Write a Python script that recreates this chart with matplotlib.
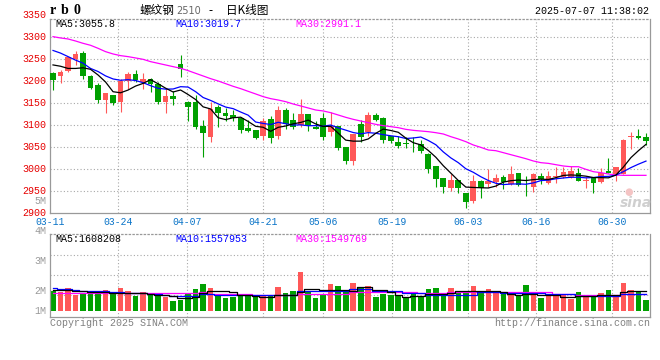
import matplotlib
matplotlib.use("Agg")
import matplotlib.pyplot as plt
import numpy as np

# ---------------- data ----------------
dates = ["03-11", "03-24", "04-07", "04-21", "05-06", "05-19", "06-03", "06-16", "06-30"]
date_idx = [0, 9, 18, 28, 36, 45, 55, 64, 74]

opens = [3218, 3212, 3223, 3251, 3264, 3212, 3191, 3157, 3168, 3153,
         3200, 3216, 3197, 3206, 3193, 3153, 3166, 3239, 3153, 3153,
         3098, 3072, 3140, 3127, 3123, 3117, 3094, 3089, 3075, 3113,
         3075, 3134, 3111, 3100, 3125, 3096, 3115, 3085, 3098, 3049,
         3019, 3102, 3085, 3123, 3115, 3075, 3062, 3060, 3060, 3057,
         3035, 3007, 2978, 2957, 2975, 2946, 2927, 2972, 2965, 2969,
         2982, 2965, 2990, 2968, 2958, 2984, 2967, 2982, 2982, 2982,
         2990, 2973, 2978, 2971, 2996, 2988, 2988, 3073, 3074, 3073]
highs = [3222, 3226, 3255, 3269, 3269, 3214, 3195, 3174, 3169, 3206,
         3222, 3226, 3219, 3207, 3197, 3184, 3178, 3260, 3154, 3168,
         3111, 3153, 3146, 3138, 3134, 3118, 3111, 3089, 3115, 3120,
         3143, 3138, 3128, 3159, 3126, 3108, 3127, 3130, 3098, 3050,
         3080, 3111, 3130, 3128, 3118, 3075, 3075, 3072, 3072, 3066,
         3036, 3007, 2979, 2988, 2975, 2946, 2986, 2975, 2999, 2988,
         2986, 3007, 2990, 2984, 2990, 2991, 2994, 3005, 3005, 3007,
         3003, 2982, 2982, 3001, 3024, 3004, 3068, 3083, 3091, 3081]
lows = [3180, 3195, 3222, 3237, 3206, 3181, 3151, 3128, 3146, 3130,
        3181, 3199, 3181, 3176, 3149, 3127, 3146, 3209, 3108, 3090,
        3028, 3062, 3096, 3108, 3108, 3082, 3084, 3067, 3066, 3060,
        3067, 3090, 3092, 3096, 3087, 3090, 3066, 3075, 3043, 3012,
        3009, 3062, 3075, 3108, 3058, 3058, 3047, 3047, 3039, 3037,
        2991, 2959, 2946, 2950, 2944, 2910, 2921, 2933, 2959, 2959,
        2953, 2963, 2961, 2937, 2948, 2965, 2965, 2968, 2978, 2978,
        2972, 2957, 2946, 2967, 2990, 2973, 2988, 3045, 3069, 3054]
closes = [3203, 3222, 3254, 3262, 3212, 3185, 3157, 3174, 3151, 3200,
          3216, 3203, 3204, 3193, 3153, 3166, 3159, 3227, 3142, 3096,
          3082, 3136, 3127, 3120, 3117, 3089, 3087, 3071, 3110, 3071,
          3134, 3102, 3096, 3125, 3098, 3091, 3073, 3098, 3047, 3019,
          3080, 3073, 3123, 3111, 3066, 3064, 3053, 3057, 3058, 3041,
          3000, 2976, 2959, 2975, 2957, 2925, 2972, 2956, 2972, 2978,
          2971, 2988, 2963, 2967, 2988, 2977, 2984, 2984, 2992, 2994,
          2972, 2975, 2968, 2991, 2991, 3004, 3066, 3076, 3070, 3063]

ma5 = [3237, 3234, 3229, 3229, 3230.5, 3227.0, 3214.1, 3198.1, 3175.9, 3173.5,
       3179.7, 3188.8, 3194.9, 3203.4, 3194.0, 3184.0, 3175.3, 3179.8, 3169.5, 3158.1,
       3141.4, 3136.6, 3116.6, 3112.3, 3116.6, 3117.8, 3108.1, 3097.0, 3094.8, 3085.6,
       3094.7, 3097.7, 3102.7, 3105.8, 3111.1, 3102.4, 3096.7, 3097.0, 3081.3, 3065.5,
       3063.2, 3063.2, 3068.2, 3081.1, 3090.6, 3087.5, 3083.4, 3070.2, 3059.6, 3054.7,
       3041.9, 3026.5, 3007.1, 2990.3, 2973.4, 2958.4, 2957.6, 2956.9, 2956.4, 2960.7,
       2969.8, 2973.0, 2974.5, 2973.4, 2975.4, 2976.6, 2975.7, 2980.0, 2985.0, 2986.1,
       2985.2, 2983.3, 2980.1, 2980.0, 2979.5, 2985.9, 3004.2, 3025.7, 3041.5, 3055.8]
ma10 = [3270, 3264, 3256, 3248, 3241, 3229, 3222, 3212, 3205, 3202.0,
        3203.4, 3201.5, 3196.5, 3189.7, 3183.7, 3181.8, 3182.1, 3187.4, 3186.5, 3176.0,
        3162.7, 3156.0, 3148.2, 3140.9, 3137.3, 3129.6, 3122.4, 3106.8, 3103.6, 3101.1,
        3106.2, 3102.9, 3099.9, 3100.3, 3098.3, 3098.6, 3097.2, 3099.9, 3093.5, 3088.3,
        3082.8, 3079.9, 3082.6, 3081.2, 3078.0, 3075.4, 3073.3, 3069.2, 3070.4, 3072.6,
        3064.7, 3055.0, 3038.6, 3025.0, 3014.1, 3000.2, 2992.1, 2982.0, 2973.4, 2967.1,
        2964.1, 2965.3, 2965.7, 2964.9, 2968.0, 2973.2, 2974.4, 2977.3, 2979.2, 2980.8,
        2980.9, 2979.5, 2980.1, 2982.5, 2982.8, 2985.5, 2993.8, 3002.9, 3010.7, 3017.7]
ma30 = [3301.5, 3298.5, 3296.2, 3291.6, 3286.3, 3281.8, 3274.9, 3267.3, 3262.0, 3258.2,
        3255.9, 3252.9, 3249.8, 3244.5, 3240.7, 3236.9, 3233.1, 3229.3, 3224.0, 3217.9,
        3211.8, 3205.7, 3200.4, 3194.3, 3188.2, 3182.9, 3176.8, 3170.8, 3164.7, 3160.1,
        3157.0, 3153.2, 3147.9, 3143.4, 3138.8, 3134.2, 3132.0, 3128.1, 3122.8, 3117.5,
        3112.9, 3109.1, 3105.3, 3101.5, 3098.5, 3096.2, 3093.9, 3090.1, 3087.8, 3086.3,
        3084.8, 3082.5, 3079.5, 3073.4, 3068.1, 3062.0, 3054.4, 3049.0, 3043.0, 3041.4,
        3036.9, 3032.3, 3027.8, 3023.2, 3017.9, 3014.1, 3012.5, 3009.5, 3006.5, 3004.9,
        3004.9, 2998.9, 2993.5, 2991.3, 2988.2, 2986.0, 2985.2, 2985.2, 2985.2, 2985.2]

# volume in millions (on the chart's own volume scale)
volumes = [2.01, 1.97, 2.10, 1.88, 1.93, 1.96, 1.96, 2.04, 1.93, 2.10,
           2.01, 1.84, 1.96, 1.91, 1.88, 1.80, 1.68, 1.71, 1.90, 2.07,
           2.23, 2.10, 1.88, 1.77, 1.80, 1.84, 1.84, 1.82, 1.84, 1.88,
           2.13, 1.93, 1.99, 2.63, 1.99, 1.77, 1.88, 2.23, 2.16, 2.04,
           2.27, 2.10, 2.18, 1.80, 1.91, 1.88, 1.88, 1.77, 1.91, 1.82,
           2.07, 2.10, 1.88, 2.10, 1.96, 1.99, 2.18, 1.93, 2.07, 1.99,
           1.93, 1.93, 1.88, 2.21, 1.93, 1.77, 1.90, 1.84, 1.91, 1.74,
           1.97, 1.88, 1.88, 1.93, 2.04, 1.88, 2.27, 2.04, 1.99, 1.71]
vol_ma5 = [2.04, 2.02, 2.02, 2.01, 2.00, 1.96, 1.96, 1.96, 1.93, 1.93,
           1.93, 1.93, 1.92, 1.91, 1.88, 1.88, 1.82, 1.77, 1.77, 1.80,
           1.93, 2.00, 2.01, 2.01, 1.96, 1.88, 1.88, 1.82, 1.80, 1.80,
           1.88, 1.88, 1.88, 1.96, 2.07, 2.07, 2.02, 2.04, 2.04, 2.04,
           1.99, 2.12, 2.12, 2.02, 2.02, 1.97, 1.88, 1.80, 1.82, 1.82,
           1.91, 1.91, 1.91, 1.93, 1.99, 1.99, 1.99, 1.99, 1.99, 1.99,
           1.96, 1.91, 1.88, 1.91, 1.91, 1.88, 1.88, 1.88, 1.80, 1.80,
           1.82, 1.82, 1.82, 1.88, 1.88, 1.88, 1.96, 1.99, 2.01, 2.01]
vol_ma10 = [2.10, 2.07, 2.06, 2.03, 2.01, 1.99, 1.99, 1.99, 1.96, 1.96,
            1.93, 1.93, 1.93, 1.91, 1.90, 1.87, 1.84, 1.84, 1.82, 1.82,
            1.91, 1.91, 1.88, 1.88, 1.88, 1.88, 1.88, 1.88, 1.88, 1.88,
            1.88, 1.88, 1.88, 1.99, 1.99, 1.99, 1.99, 1.99, 1.99, 1.99,
            2.07, 2.07, 2.07, 1.99, 1.99, 1.99, 1.99, 1.93, 1.93, 1.93,
            1.88, 1.88, 1.88, 1.88, 1.88, 1.88, 1.88, 1.97, 1.97, 1.97,
            1.93, 1.93, 1.93, 1.93, 1.93, 1.93, 1.91, 1.91, 1.91, 1.91,
            1.84, 1.84, 1.84, 1.84, 1.84, 1.84, 1.91, 1.91, 1.91, 1.91]
vol_ma30 = [1.93, 1.93, 1.93, 1.93, 1.93, 1.93, 1.93, 1.93, 1.93, 1.93,
            1.93, 1.93, 1.93, 1.93, 1.93, 1.93, 1.93, 1.93, 1.93, 1.93,
            1.96, 1.91, 1.91, 1.91, 1.91, 1.91, 1.91, 1.88, 1.88, 1.88,
            1.88, 1.88, 1.88, 1.91, 1.91, 1.91, 1.91, 1.91, 1.91, 1.91,
            1.96, 1.96, 1.96, 1.96, 1.96, 1.96, 1.96, 1.96, 1.96, 1.93,
            1.93, 1.93, 1.93, 1.96, 1.96, 1.96, 1.96, 1.96, 1.96, 1.96,
            1.96, 1.96, 1.96, 1.96, 1.96, 1.96, 1.96, 1.91, 1.91, 1.91,
            1.88, 1.88, 1.88, 1.88, 1.88, 1.88, 1.91, 1.91, 1.91, 1.91]

price_levels = [2900, 2950, 3000, 3050, 3100, 3150, 3200, 3250, 3300, 3350]
vol_levels = [5, 4, 3, 2]
vol_labels = ["5M", "4M", "3M", "2M"]

# ---------------- styling / layout ----------------
W, H = 660, 360
RED = "#ff5858"
GREEN = "#00a000"
GRID = "#a8a8a8"
BORDER = "#999999"
MONO = ["Liberation Mono", "DejaVu Sans Mono"]
CJK = ["Noto Sans CJK SC", "DejaVu Sans"]
DOT = (0, (1, 2))


def rect(l, t, r, b):
    return [l / W, 1 - b / H, (r - l) / W, (b - t) / H]


def ftext(x, y, s, **kw):
    return fig.text(x / W, 1 - y / H, s, **kw)


fig = plt.figure(figsize=(W / 100, H / 100), dpi=100)
fig.patch.set_facecolor("white")

ax = fig.add_axes(rect(50, 19, 649.5, 212.7))
vax = fig.add_axes(rect(50, 234, 649.5, 317.3))

n = len(closes)
x = np.arange(n)
XL = (-0.4, n - 0.53)
PX_PER_UNIT = 0.4385
ax.set_xlim(*XL)
ax.set_ylim(2900, 2900 + (212.7 - 19) / PX_PER_UNIT)
VOL_PX = 30.0
vax.set_xlim(*XL)
vax.set_ylim(2 - (317.3 - 291) / VOL_PX, 2 + (291 - 234) / VOL_PX)
VOL_BASE = 2 - (310.7 - 291) / VOL_PX

# grid positions (Sina spaces date grid slightly wider than candles)
grid_pos = [-0.4 + 1.0119 * i for i in date_idx]

for a in (ax, vax):
    a.set_xticks([])
    a.set_yticks([])
    a.set_facecolor("white")
    for s in ("left", "right", "bottom"):
        a.spines[s].set_color(BORDER)
        a.spines[s].set_linewidth(0.9)
    a.spines["top"].set_color(BORDER)
    a.spines["top"].set_linestyle(DOT)
    a.spines["top"].set_linewidth(0.9)
    for g in grid_pos[1:]:
        a.axvline(g, color=GRID, lw=0.8, ls=DOT, zorder=0)

for p in price_levels[1:-1]:
    ax.axhline(p, color=GRID, lw=0.8, ls=DOT, zorder=0)
for y_px in (255.3, 275.3, 295.3):
    vax.axhline(2 + (291 - y_px) / VOL_PX, color=GRID, lw=0.8, ls=DOT, zorder=0)

# candles
cols = [RED if c > o else GREEN for o, c in zip(opens, closes)]
ax.vlines(x, lows, highs, colors=cols, lw=0.8, zorder=2)
bot = [min(o, c) for o, c in zip(opens, closes)]
hgt = [max(abs(c - o), 1.6) for o, c in zip(opens, closes)]
ax.bar(x, hgt, bottom=bot, width=0.76, color=cols, linewidth=0, zorder=3)

ax.plot(x, ma30, color="#ff00ff", lw=0.9, zorder=4)
ax.plot(x, ma10, color="#0000ff", lw=0.9, zorder=4)
ax.plot(x, ma5, color="black", lw=0.9, zorder=4)

# volume
vax.bar(x, [v - VOL_BASE for v in volumes], bottom=VOL_BASE, width=0.74,
        color=cols, linewidth=0, zorder=2)
vax.plot(x, vol_ma30, color="#ff00ff", lw=0.9, drawstyle="steps-mid", zorder=4)
vax.plot(x, vol_ma10, color="#0000ff", lw=0.9, drawstyle="steps-mid", zorder=4)
vax.plot(x, vol_ma5, color="black", lw=0.9, drawstyle="steps-mid", zorder=4)

# price labels (left, red)
for p in price_levels:
    ax.annotate(str(p), xy=(0, p), xycoords=("axes fraction", "data"),
                xytext=(-4, 0), textcoords="offset pixels", ha="right", va="center",
                color="#e60000", fontsize=7.2, family=MONO, annotation_clip=False)
# volume labels (left, gray)
for v, s in zip(vol_levels, vol_labels):
    vax.annotate(s, xy=(0, v), xycoords=("axes fraction", "data"),
                 xytext=(-4, 0), textcoords="offset pixels", ha="right", va="center",
                 color="#999999", fontsize=7.2, family=MONO, annotation_clip=False)
vax.annotate("1M", xy=(0, VOL_BASE), xycoords=("axes fraction", "data"),
             xytext=(-4, 0), textcoords="offset pixels", ha="right", va="center",
             color="#999999", fontsize=7.2, family=MONO, annotation_clip=False)

# date labels
for g, d in zip(grid_pos, dates):
    ax.annotate(d, xy=(g, 0), xycoords=("data", "axes fraction"),
                xytext=(0, -9), textcoords="offset pixels", ha="center", va="center",
                color="#0a74c8", fontsize=7.0, family=MONO, annotation_clip=False)

# header texts
for cx, ch in zip((53, 65, 77), "rb0"):
    ftext(cx, 10.5, ch, fontsize=10, family=["Liberation Serif", "DejaVu Serif"],
          fontweight="bold", va="center", ha="center")
ftext(140, 10.5, "螺纹钢", fontsize=8.4, family=CJK, va="center", ha="left")
ftext(176, 11, "2510", fontsize=7.0, family=["DejaVu Sans"], color="#666666", va="center", ha="left")
ftext(210, 10.5, "-", fontsize=8.4, family=CJK, va="center", ha="center")
ftext(226, 10.5, "日K线图", fontsize=8.4, family=CJK, va="center", ha="left")
ftext(649, 11.5, "2025-07-07 11:38:02", fontsize=7.2, family=MONO, va="center", ha="right")

ftext(55, 24, "MA5:3055.8", fontsize=7.2, family=MONO, color="black", va="center")
ftext(175, 24, "MA10:3019.7", fontsize=7.2, family=MONO, color="#0000ff", va="center")
ftext(295, 24, "MA30:2991.1", fontsize=7.2, family=MONO, color="#ff00ff", va="center")

ftext(55, 238.5, "MA5:1608208", fontsize=7.2, family=MONO, color="black", va="center")
ftext(175, 238.5, "MA10:1557953", fontsize=7.2, family=MONO, color="#0000ff", va="center")
ftext(295, 238.5, "MA30:1549769", fontsize=7.2, family=MONO, color="#ff00ff", va="center")

ftext(50, 323.5, "Copyright 2025 SINA.COM", fontsize=7.2, family=MONO, color="#808080", va="center")
ftext(650, 323.5, "http://finance.sina.com.cn", fontsize=7.2, family=MONO, color="#808080",
      va="center", ha="right")

# sina watermark
ftext(629, 192, "●", fontsize=7, color="#f4c4c4", va="center", ha="center", family=["DejaVu Sans"])
ftext(636, 203, "sina", fontsize=10, color="#cfcfcf", va="center", ha="center",
      fontweight="bold", fontstyle="italic", family=["DejaVu Sans"])

fig.savefig("out.png", dpi=100, facecolor="white")
